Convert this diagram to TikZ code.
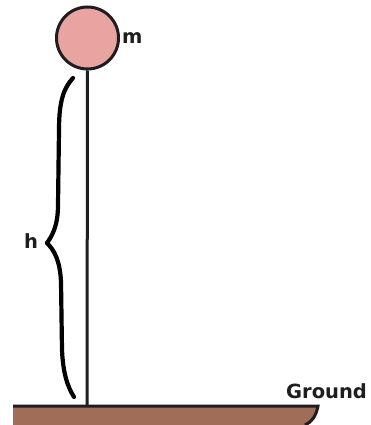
\documentclass[tikz,border=0pt]{standalone}
\usepackage{fontspec}
\newfontfamily\lbl{DejaVu Sans Bold}
\definecolor{ball}{HTML}{E9A3A0}
\definecolor{wood}{HTML}{A06E58}
\definecolor{ink}{HTML}{1E1E1E}
\begin{document}
\begin{tikzpicture}[x=1pt,y=-1pt,
  lab/.style={font=\lbl\fontsize{19.5}{21}\selectfont, text=ink, inner sep=0pt},
  bracestroke/.style={draw=black, line width=4.2pt, line cap=round, line join=round}]
\useasboundingbox[fill=white] (0,0) rectangle (370,425);
% ground board
\fill[wood] (13,406) -- (318,406) .. controls (316,416) and (312,422) .. (305,425) -- (13,425) -- cycle;
\draw[ink, line width=3pt] (13,406) -- (318,406) .. controls (316,416) and (312,422) .. (305,425);
% pole
\coordinate (base) at (87,406);
\node[circle, draw=ink, line width=3pt, fill=ball, minimum size=62pt, inner sep=0pt] (ball) at (87.5,38) {};
\draw[ink, line width=3pt] (ball.south) -- (base);
% labels
\node[lab, anchor=base west] (m) at (122,44) {m};
\node[lab, anchor=base west] (h) at (24,248) {h};
\node[lab, anchor=base west] (g) at (286,398) {Ground};
% brace
\draw[bracestroke] (73,78) .. controls (64,88) and (59,100) .. (59,130)
  -- (58,205) .. controls (58,226) and (52,236) .. (47,243);
\draw[bracestroke] (47,243) .. controls (54,250) and (60,260) .. (61,282)
  -- (62,350) .. controls (63,372) and (67,386) .. (74,397);
\end{tikzpicture}
\end{document}
